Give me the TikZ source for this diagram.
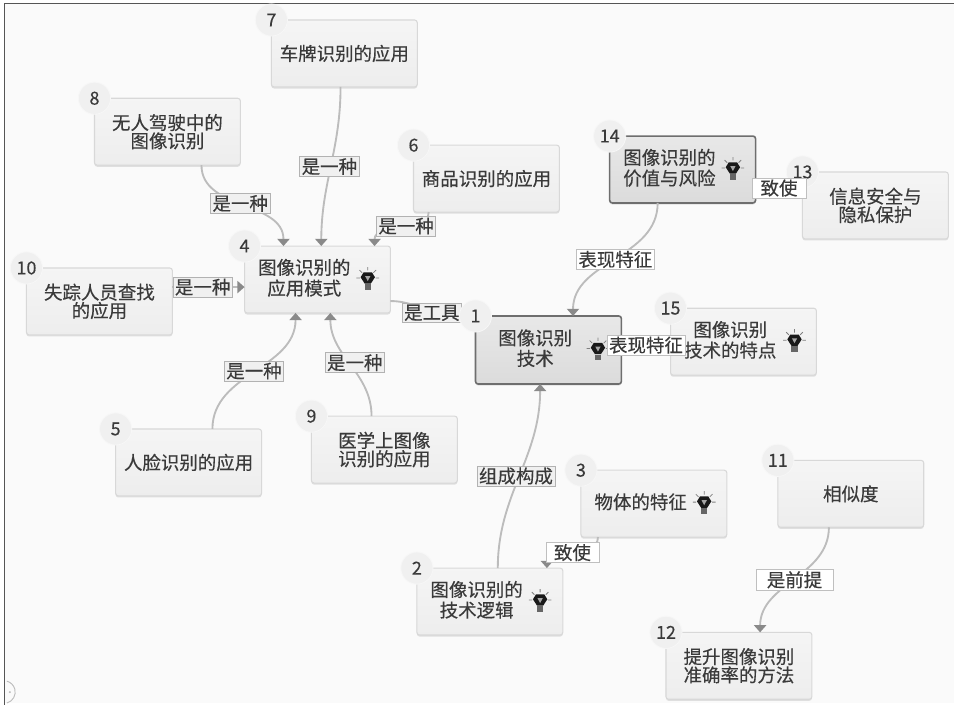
\documentclass[tikz,border=0pt]{standalone}
\usepackage{fontspec}
\setmainfont[FakeBold=0.35]{Noto Sans CJK SC}
\usepackage{xcolor}
\usetikzlibrary{arrows.meta, positioning, shadows}
\definecolor{MAP_PAGE}{HTML}{fafafa}
\definecolor{MAP_FRAME}{HTML}{555555}
\definecolor{MAP_TEXT}{HTML}{3a3a3a}
\definecolor{MAP_LINE}{HTML}{bcbcbc}
\definecolor{MAP_TIP}{HTML}{8a8a8a}
\definecolor{MAP_EDGE}{HTML}{d8d8d8}
\definecolor{MAP_CORE}{HTML}{6e6e6e}
\newcommand{\tiptext}[1]{\renewcommand{\arraystretch}{0.92}\begin{tabular}{@{}c@{}}#1\end{tabular}\hspace*{0.7cm}}
\tikzset{
  item/.style={
    rectangle, rounded corners=2pt, outer sep=0pt,
    minimum width=3.86cm, minimum height=1.77cm,
    text centered, align=center, text=MAP_TEXT,
    draw=MAP_EDGE, line width=0.8pt,
    top color=black!4, bottom color=black!7,
    drop shadow={shadow xshift=0pt, shadow yshift=-1.2pt, fill=black!25, opacity=0.45},
    execute at begin node={\vspace*{2.5pt}},
    font=\fontsize{13.9}{13.8}\selectfont},
  core/.style={
    item, draw=MAP_CORE, line width=1.2pt,
    top color=black!9, bottom color=black!14},
  badge/.style={
    circle, minimum size=0.85cm, inner sep=0pt, outer sep=0pt,
    fill=black!6, draw=black!3, line width=0.6pt, text=MAP_TEXT,
    font=\fontsize{13.5}{14}\selectfont},
  tag/.style={
    rectangle, inner xsep=1.5pt, inner ysep=1.2pt, text=MAP_TEXT,
    fill=black!6, draw=black!30, line width=0.5pt,
    font=\fontsize{13.9}{14}\selectfont},
  tagw/.style={tag, fill=white, draw=black!25},
  arr/.style={-{Triangle[length=1.9mm,width=3.2mm,color=MAP_TIP]}, line width=1.4pt, color=MAP_LINE},
  bulb/.pic={
    \draw[black!50, line width=0.6pt]
      (-0.3,0.04) -- (-0.21,0.04) (0.21,0.04) -- (0.3,0.04)
      (-0.22,0.25) -- (-0.15,0.18) (0.22,0.25) -- (0.15,0.18)
      (0,0.33) -- (0,0.24);
    \fill[black!90] (-0.19,0.06) -- (-0.11,0.19) -- (0.11,0.19) -- (0.19,0.06)
      -- (0.08,-0.11) -- (-0.08,-0.11) -- cycle;
    \fill[black!60] (-0.08,-0.12) rectangle (0.08,-0.27);
    \fill[black!35] (-0.07,0.09) -- (0.07,0.09) -- (0,-0.04) -- cycle;
  },
}
\begin{document}
\begin{tikzpicture}
  \useasboundingbox (0,0) rectangle (25.24,18.65);

  \fill[MAP_PAGE] (0.11,0.05) rectangle (25.24,18.56);
  \draw[MAP_FRAME, line width=0.7pt] (0.11,0) -- (0.11,18.56) -- (25.24,18.56);
  \draw[MAP_LINE, line width=0.7pt] (0.18,0.05) arc[start angle=-75, end angle=75, radius=0.3];
  \fill[MAP_LINE] (0.26,0.34) circle (0.03);

  \node[core, minimum height=1.8cm] (tech) at (14.51,9.39)
    {\tiptext{图像识别\\技术}};

  \node[item, above left=0.08cm and 2.25cm of tech] (mode)
    {\tiptext{图像识别的\\应用模式}};

  \node[item, above=4.21cm of mode, xshift=0.71cm] (plate)
    {车牌识别的应用};

  \node[item, above=2.14cm of mode, xshift=-3.97cm] (driver)
    {无人驾驶中的\\图像识别};

  \node[item, above=0.90cm of mode, xshift=4.47cm] (goods)
    {商品识别的应用};

  \node[item, left=1.91cm of mode, yshift=-0.58cm] (missing)
    {失踪人员查找\\的应用};

  \node[item, below=3.07cm of mode, xshift=-3.41cm] (face)
    {人脸识别的应用};

  \node[item, below=2.73cm of mode, xshift=1.77cm] (medical)
    {医学上图像\\识别的应用};

  \node[core, above=2.99cm of tech, xshift=3.55cm] (value)
    {\tiptext{图像识别的\\价值与风险}};

  \node[item, right=1.24cm of value, yshift=-0.95cm] (privacy)
    {信息安全与\\隐私保护};

  \node[item, right=1.30cm of tech, yshift=0.22cm] (trait)
    {\tiptext{图像识别\\技术的特点}};

  \node[item, below=4.87cm of tech, xshift=-1.55cm] (logic)
    {\tiptext{图像识别的\\技术逻辑}};

  \node[item, above=0.82cm of logic, xshift=4.34cm] (object)
    {\tiptext{物体的特征}};

  \node[item, right=1.35cm of object, yshift=0.26cm] (similar)
    {相似度};

  \node[item, below=2.78cm of similar, xshift=-2.96cm] (method)
    {提升图像识别\\准确率的方法};

  \pic at ([xshift=-0.62cm]tech.east) {bulb};
  \pic at ([xshift=-0.6cm]mode.east) {bulb};
  \pic at ([xshift=-0.6cm]value.east) {bulb};
  \pic at ([xshift=-0.58cm]trait.east) {bulb};
  \pic at ([xshift=-0.6cm]logic.east) {bulb};
  \pic at ([xshift=-0.6cm]object.east) {bulb};

  \draw[arr] ([xshift=0.90cm]driver.south) to[out=-90,in=90] node[tag, xshift=-0.06cm, yshift=0.06cm]{是一种} ([xshift=-0.90cm]mode.north);
  \draw[arr] ([xshift=-0.10cm]plate.south) to[out=-90,in=90] node[tag, xshift=-0.04cm]{是一种} ([xshift=0.10cm]mode.north);
  \draw[arr] ([xshift=-1.53cm]goods.south) to[out=-90,in=90] node[tag, xshift=0.12cm, yshift=0.08cm]{是一种} ([xshift=1.51cm]mode.north);
  \draw[arr] ([yshift=0.38cm]missing.east) -- node[tag,pos=0.42]{是一种} ([yshift=-0.20cm]mode.west);
  \draw[arr] ([xshift=0.63cm]face.north) to[out=90,in=-90] node[tag]{是一种} ([xshift=-0.58cm]mode.south);
  \draw[arr] ([xshift=-0.34cm]medical.north) to[out=90,in=-90] node[tag, xshift=0.1cm, yshift=0.05cm]{是一种} ([xshift=0.34cm]mode.south);
  \draw[arr] ([yshift=-0.57cm]mode.east) to[out=0,in=200] node[tag, xshift=-0.05cm]{是工具} (tech.north west);
  \draw[arr] ([xshift=-0.66cm]value.south) to[out=-90,in=90] node[tagw]{表现特征} ([xshift=0.65cm]tech.north);
  \draw[arr] ([xshift=0.21cm]logic.north) to[out=90,in=-90] node[tag, xshift=-0.08cm]{组成构成} ([xshift=-0.22cm]tech.south);
  \draw[arr] ([xshift=-1.48cm]object.south) to[out=-90,in=90] node[tagw, minimum width=1.4cm]{致使} ([xshift=1.51cm]logic.north);
  \draw[arr] ([xshift=-0.58cm]similar.south) to[out=-90,in=90] node[tagw, minimum width=2.04cm]{是前提} ([xshift=0.56cm]method.north);

  \node[badge] (n1) at (tech.north west) {1};
  \node[badge] (n2) at (logic.north west) {2};
  \node[badge] (n3) at (object.north west) {3};
  \node[badge] (n4) at (mode.north west) {4};
  \node[badge] (n5) at (face.north west) {5};
  \node[badge] (n6) at (goods.north west) {6};
  \node[badge] (n7) at (plate.north west) {7};
  \node[badge] (n8) at (driver.north west) {8};
  \node[badge] (n9) at (medical.north west) {9};
  \node[badge] (n10) at (missing.north west) {10};
  \node[badge] (n11) at (similar.north west) {11};
  \node[badge] (n12) at (method.north west) {12};
  \node[badge] (n13) at (privacy.north west) {13};
  \node[badge] (n14) at (value.north west) {14};
  \node[badge] (n15) at (trait.north west) {15};

  \draw[arr] ([yshift=-0.49cm]value.east) -- node[tagw, minimum width=1.43cm]{致使} ([yshift=0.46cm]privacy.west);
  \draw[arr] ([yshift=0.13cm]tech.east) -- node[tagw]{表现特征} ([yshift=-0.09cm]trait.west);

\end{tikzpicture}
\end{document}
